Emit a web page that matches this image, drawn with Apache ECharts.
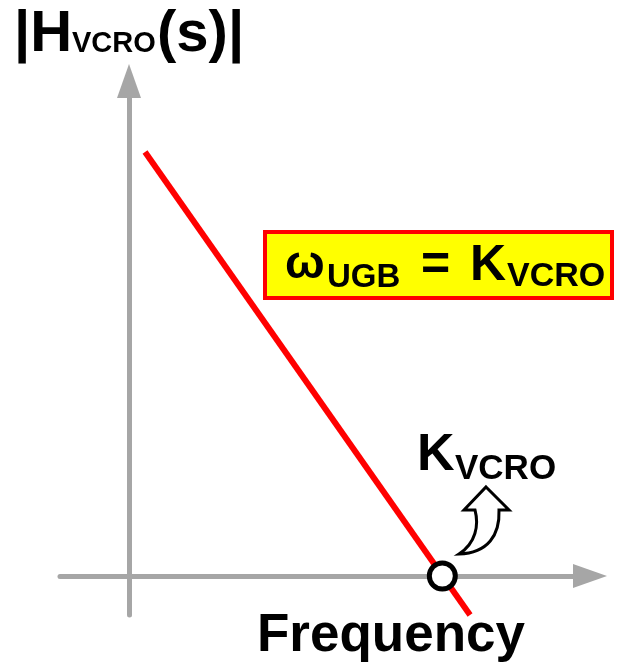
<!DOCTYPE html>
<html><head><meta charset="utf-8">
<script src="https://cdn.jsdelivr.net/npm/echarts@6/dist/echarts.min.js"></script>
<style>html,body{margin:0;padding:0;background:#fff}#c{width:618px;height:666px}</style>
</head><body><div id="c"></div>
<script>
// Asymptotic magnitude plot (log frequency in decades vs. magnitude units)
const lineX = [0.232, 4.942];
const lineY = [10.87, -1.0];
const crossX = [4.54];
const crossY = [0];
const yTitle = ['|H', 'VCRO', '(s)|'];
const xTitle = 'Frequency';
const boxText = ['ω', 'UGB', '=', 'K', 'VCRO'];
const pointLabel = ['K', 'VCRO'];

const FONT = '"Liberation Sans", Arial, sans-serif';

const CurvedArrow = echarts.graphic.extendShape({
  shape: {},
  buildPath: function (ctx) {
    ctx.moveTo(486, 487);
    ctx.lineTo(509, 510);
    ctx.lineTo(499, 510);
    ctx.bezierCurveTo(500, 535, 488, 553, 459, 554);
    ctx.bezierCurveTo(476, 543, 479, 525, 475, 510);
    ctx.lineTo(464, 510);
    ctx.closePath();
  }
});
echarts.graphic.registerShape('curvedArrow', CurvedArrow);

const chart = echarts.init(document.getElementById('c'));
function txt(x, y, s, size) {
  return {type: 'text', x: x, y: y, z: 100,
    style: {text: s, fontFamily: FONT, fontWeight: 'bold', fontSize: size, fill: '#000',
      align: 'left', verticalAlign: 'middle'}};
}
const axisLine = {onZero: true, symbol: ['none', 'triangle'], symbolSize: [24, 34],
  lineStyle: {color: '#a6a6a6', width: 5}};
chart.setOption({
  animation: false,
  grid: {left: 60, right: 28, top: 81, bottom: 51},
  xAxis: {type: 'value', min: -1, max: 6.68, axisLine: axisLine,
    axisTick: {show: false}, axisLabel: {show: false}, splitLine: {show: false}},
  yAxis: {type: 'value', min: -1, max: 12.69, axisLine: axisLine,
    axisTick: {show: false}, axisLabel: {show: false}, splitLine: {show: false}},
  series: [
    {type: 'line', data: lineX.map((x, i) => [x, lineY[i]]), symbol: 'none',
      lineStyle: {color: '#ff0000', width: 6}, z: 3, clip: false},
    {type: 'scatter', data: crossX.map((x, i) => [x, crossY[i]]), symbol: 'circle', symbolSize: 26,
      itemStyle: {color: '#fff', borderColor: '#000', borderWidth: 5, opacity: 1}, z: 5}
  ],
  graphic: [
    {type: 'rect', z: 90, shape: {x: 265, y: 232, width: 347, height: 66},
      style: {fill: '#ffff00', stroke: '#ff0000', lineWidth: 4}},
    txt(14, 35, yTitle[0], 58),
    txt(72, 44, yTitle[1], 29),
    txt(157, 35, yTitle[2], 58),
    txt(285, 265, boxText[0], 47),
    txt(327, 278, boxText[1], 33),
    txt(421, 266, boxText[2], 50),
    txt(470, 266, boxText[3], 50),
    txt(507, 277, boxText[4], 34),
    txt(417, 456, pointLabel[0], 52),
    txt(455, 469, pointLabel[1], 35),
    txt(257, 636, xTitle, 53),
    {type: 'curvedArrow', z: 100, shape: {},
      style: {fill: '#fff', stroke: '#000', lineWidth: 3, lineJoin: 'miter'}}
  ]
});
</script></body></html>
